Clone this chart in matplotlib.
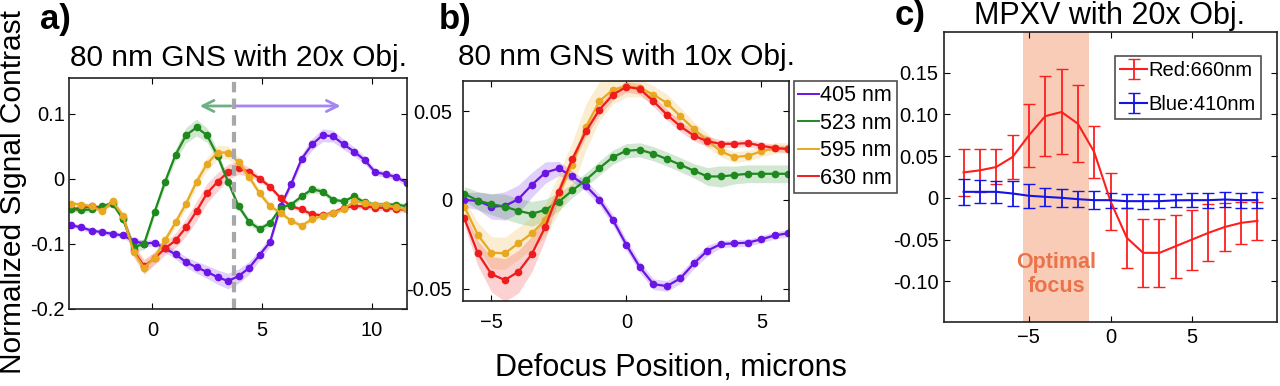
import numpy as np
import matplotlib
matplotlib.use("Agg")
import matplotlib.pyplot as plt

plt.rcParams['font.family'] = ['Liberation Sans', 'DejaVu Sans']

# ---- panel a: 80 nm GNS, 20x objective ----
xa = np.linspace(-3.73, 11.58, 33)
a_405 = [-0.071, -0.0745, -0.0795, -0.082, -0.0845, -0.087, -0.0955, -0.0995, -0.098, -0.107, -0.116,
         -0.128, -0.136, -0.143, -0.151, -0.157, -0.1495, -0.137, -0.117, -0.097, -0.042, -0.008,
         0.0305, 0.053, 0.067, 0.0655, 0.053, 0.042, 0.029, 0.0105, 0.007, 0.003, -0.006]
a_523 = [-0.046, -0.048, -0.047, -0.042, -0.038, -0.062, -0.105, -0.100, -0.051, -0.0045, 0.037,
         0.067, 0.079, 0.067, 0.0355, -0.0045, -0.042, -0.066, -0.077, -0.068, -0.0445, -0.0395,
         -0.027, -0.016, -0.0195, -0.032, -0.0345, -0.027, -0.036, -0.0395, -0.0395, -0.0395, -0.042]
a_595 = [-0.038, -0.0395, -0.042, -0.0495, -0.0345, -0.057, -0.112, -0.137, -0.121, -0.0945, -0.067,
         -0.038, -0.0045, 0.023, 0.0405, 0.0405, 0.0255, 0.003, -0.022, -0.042, -0.052, -0.0645,
         -0.072, -0.062, -0.057, -0.052, -0.047, -0.0345, -0.037, -0.0395, -0.0395, -0.044, -0.047]
a_630 = [-0.047, -0.0445, -0.042, -0.0445, -0.036, -0.0595, -0.1095, -0.1345, -0.122, -0.107, -0.0945,
         -0.0745, -0.0495, -0.022, -0.0045, 0.0105, 0.017, 0.0105, 0.0005, -0.012, -0.0295, -0.042,
         -0.047, -0.0545, -0.056, -0.052, -0.0445, -0.042, -0.042, -0.0445, -0.0445, -0.047, -0.047]
a_405_sd = [0.004, 0.004, 0.004, 0.004, 0.004, 0.004, 0.005, 0.005, 0.005, 0.006, 0.007,
            0.008, 0.009, 0.010, 0.011, 0.012, 0.011, 0.010, 0.008, 0.007, 0.006, 0.006,
            0.007, 0.009, 0.010, 0.009, 0.008, 0.007, 0.006, 0.005, 0.005, 0.005, 0.005]
a_523_sd = [0.004, 0.004, 0.004, 0.004, 0.004, 0.006, 0.009, 0.008, 0.006, 0.007, 0.009,
            0.012, 0.013, 0.011, 0.008, 0.006, 0.005, 0.005, 0.005, 0.005, 0.004, 0.004,
            0.004, 0.005, 0.005, 0.004, 0.004, 0.004, 0.004, 0.004, 0.004, 0.004, 0.004]
a_595_sd = [0.004, 0.004, 0.004, 0.004, 0.004, 0.006, 0.009, 0.010, 0.009, 0.008, 0.008,
            0.008, 0.009, 0.010, 0.011, 0.010, 0.008, 0.006, 0.005, 0.005, 0.004, 0.004,
            0.004, 0.004, 0.004, 0.004, 0.004, 0.004, 0.004, 0.004, 0.004, 0.004, 0.004]
a_630_sd = [0.004, 0.004, 0.004, 0.004, 0.004, 0.006, 0.009, 0.011, 0.010, 0.010, 0.011,
            0.013, 0.015, 0.015, 0.014, 0.012, 0.010, 0.007, 0.005, 0.004, 0.004, 0.004,
            0.004, 0.004, 0.004, 0.004, 0.004, 0.004, 0.004, 0.004, 0.004, 0.004, 0.004]
focus_a = 3.7
arrow_y = 0.112
arrow_left, arrow_right = 2.03, 8.7

# ---- panel b: 80 nm GNS, 10x objective ----
xb = np.arange(-6, 6.01, 0.5)
b_405 = [0.0, -0.0006, -0.0038, -0.0034, 0.0004, 0.0085, 0.0154, 0.0177, 0.0132, 0.0079, 0.0,
         -0.0113, -0.0254, -0.038, -0.0475, -0.0486, -0.0442, -0.0358, -0.0286, -0.0249, -0.0245,
         -0.0241, -0.0222, -0.020, -0.0188]
b_523 = [0.0034, -0.0004, -0.0024, -0.0038, -0.0062, -0.0079, -0.0056, -0.001, 0.0053, 0.0113,
         0.0179, 0.0241, 0.0277, 0.0282, 0.026, 0.023, 0.0198, 0.0164, 0.0132, 0.0132, 0.014,
         0.0147, 0.0147, 0.0147, 0.0147]
b_595 = [-0.0038, -0.0198, -0.0298, -0.0301, -0.0245, -0.0188, -0.0113, 0.0038, 0.0198, 0.0411,
         0.0556, 0.0621, 0.064, 0.0631, 0.0593, 0.0546, 0.0471, 0.0399, 0.0335, 0.0273, 0.0241,
         0.0249, 0.0273, 0.0292, 0.0292]
b_630 = [-0.0104, -0.0301, -0.0418, -0.0452, -0.0405, -0.0305, -0.0151, 0.0047, 0.023, 0.0386,
         0.0508, 0.0593, 0.0637, 0.0625, 0.0556, 0.048, 0.0414, 0.0362, 0.033, 0.0316, 0.0316,
         0.032, 0.0305, 0.0292, 0.0286]
b_405_sd = [0.004, 0.005, 0.007, 0.008, 0.008, 0.007, 0.006, 0.004, 0.003, 0.003, 0.003,
            0.003, 0.003, 0.003, 0.003, 0.003, 0.003, 0.003, 0.003, 0.002, 0.002,
            0.002, 0.002, 0.002, 0.002]
b_523_sd = [0.004, 0.005, 0.006, 0.007, 0.007, 0.007, 0.006, 0.005, 0.004, 0.004,
            0.004, 0.004, 0.004, 0.004, 0.004, 0.004, 0.004, 0.004, 0.005, 0.006, 0.005,
            0.005, 0.005, 0.005, 0.005]
b_595_sd = [0.004, 0.007, 0.009, 0.009, 0.009, 0.009, 0.009, 0.011, 0.013, 0.013,
            0.011, 0.008, 0.006, 0.005, 0.005, 0.005, 0.005, 0.004, 0.004, 0.003, 0.003,
            0.003, 0.003, 0.003, 0.003]
b_630_sd = [0.004, 0.007, 0.010, 0.012, 0.012, 0.010, 0.007, 0.004, 0.003, 0.003,
            0.003, 0.003, 0.003, 0.003, 0.003, 0.003, 0.003, 0.003, 0.003, 0.002, 0.002,
            0.002, 0.002, 0.002, 0.002]
wavelengths = ['405 nm', '523 nm', '595 nm', '630 nm']

# ---- panel c: MPXV, 20x objective ----
xc = np.arange(-9, 10)
c_red = [0.0305, 0.033, 0.037, 0.049, 0.075, 0.098, 0.103, 0.089, 0.055, -0.004, -0.048,
         -0.066, -0.066, -0.058, -0.050, -0.042, -0.035, -0.030, -0.0277]
c_red_err = [0.028, 0.026, 0.021, 0.026, 0.038, 0.048, 0.051, 0.046, 0.031, 0.034, 0.036,
             0.041, 0.041, 0.038, 0.036, 0.034, 0.029, 0.025, 0.0225]
c_blue = [0.0072, 0.0072, 0.0072, 0.0052, 0.0025, 0.0012, 0.0, -0.0016, -0.0028, -0.0028, -0.004,
          -0.004, -0.004, -0.003, -0.0028, -0.0028, -0.002, -0.0028, -0.0028]
c_blue_err = [0.0155, 0.014, 0.013, 0.015, 0.0145, 0.011, 0.011, 0.010, 0.011, 0.009, 0.008,
              0.009, 0.008, 0.0075, 0.008, 0.009, 0.009, 0.009, 0.010]
optimal_range = (-5.35, -1.31)

colors = ['#6A14E6', '#1E8A1E', '#E8A820', '#EE1C1C']

W, H = 1280, 386
fig = plt.figure(figsize=(W / 100, H / 100), dpi=100)


def box(x0, y0, x1, y1):
    # pixel box (top-left origin) -> figure fraction rect
    return [x0 / W, 1 - y1 / H, (x1 - x0) / W, (y1 - y0) / H]


def style(ax, fs):
    ax.tick_params(direction='in', top=True, right=True, labelsize=fs, length=4, width=0.8)
    for s in ax.spines.values():
        s.set_linewidth(1.2)
        s.set_color('#222222')


# panel a
ax1 = fig.add_axes(box(69, 78, 407, 309))
for y, sd, c in zip([a_405, a_523, a_595, a_630], [a_405_sd, a_523_sd, a_595_sd, a_630_sd], colors):
    y = np.array(y); sd = np.array(sd)
    ax1.fill_between(xa, y - sd, y + sd, color=c, alpha=0.2, lw=0)
for y, c in zip([a_405, a_630, a_523, a_595], [colors[0], colors[3], colors[1], colors[2]]):
    ax1.plot(xa, y, '-o', color=c, lw=1.6, ms=4.5)
ax1.axvline(focus_a, color='#A8A8A8', lw=3, ls=(0, (2.5, 1.5)))
ax1.annotate('', xy=(arrow_left, arrow_y), xytext=(focus_a, arrow_y),
             arrowprops=dict(arrowstyle='->', color='#6FAF85', lw=2, mutation_scale=20))
ax1.annotate('', xy=(arrow_right, arrow_y), xytext=(focus_a, arrow_y),
             arrowprops=dict(arrowstyle='->', color='#A585F2', lw=2, mutation_scale=20))
ax1.set_xlim(-3.8, 11.6)
ax1.set_ylim(-0.192, 0.155)
ax1.set_xticks([0, 5, 10])
ax1.set_yticks([-0.2, -0.1, 0, 0.1])
ax1.set_yticklabels(['-0.2', '-0.1', '0', '0.1'])
style(ax1, 14.5)
ax1.tick_params(axis='x', pad=9)
ax1.tick_params(axis='y', pad=3)

# panel b
ax2 = fig.add_axes(box(463, 81, 789, 301))
for y, sd, c in zip([b_405, b_523, b_595, b_630], [b_405_sd, b_523_sd, b_595_sd, b_630_sd], colors):
    y = np.array(y); sd = np.array(sd)
    ax2.fill_between(xb, y - sd, y + sd, color=c, alpha=0.2, lw=0)
handles = []
for y, c, lab in zip([b_405, b_523, b_595, b_630], colors, wavelengths):
    ax2.plot(xb, y, '-o', color=c, lw=1.6, ms=4.5)
    h, = ax2.plot([], [], '-', color=c, lw=1.4, label=lab)
    handles.append(h)
ax2.set_xlim(-6.05, 6.02)
ax2.set_ylim(-0.057, 0.067)
ax2.set_xticks([-5, 0, 5])
ax2.set_yticks([-0.05, 0, 0.05])
ax2.set_yticklabels(['-0.05', '0', '0.05'])
style(ax2, 14.5)
ax2.tick_params(axis='x', pad=9)
ax2.tick_params(axis='y', pad=8)
leg = fig.legend(handles=handles, loc='upper left', bbox_to_anchor=(794 / W, 1 - 81 / H),
                 fontsize=15.5, frameon=True, fancybox=False, edgecolor='#222222',
                 handlelength=0.95, handletextpad=0.08, borderpad=0.2, borderaxespad=0,
                 labelspacing=0.3)
leg.get_frame().set_linewidth(1.2)

# panel c
ax3 = fig.add_axes(box(944, 32, 1277, 322))
ax3.axvspan(*optimal_range, color='#F9CCB8', lw=0)
ax3.errorbar(xc, c_red, yerr=c_red_err, color='#FF1E1E', lw=1.5, capsize=4, elinewidth=1.3,
             label='Red:660nm')
ax3.errorbar(xc, c_blue, yerr=c_blue_err, color='#1414E6', lw=1.5, capsize=4, elinewidth=1.3,
             label='Blue:410nm')
ax3.text(np.mean(optimal_range), -0.092, 'Optimal\nfocus', ha='center', va='center',
         color='#EC7349', fontsize=15.5, fontweight='bold', linespacing=1.2)
ax3.set_xlim(-10.2, 10.2)
ax3.set_ylim(-0.149, 0.199)
ax3.set_xticks([-5, 0, 5])
ax3.set_yticks([-0.10, -0.05, 0, 0.05, 0.10, 0.15])
ax3.set_yticklabels(['-0.10', '-0.05', '0', '0.05', '0.10', '0.15'])
style(ax3, 14.5)
ax3.tick_params(axis='x', pad=4)
ax3.tick_params(axis='y', pad=4)
leg3 = ax3.legend(loc='upper right', bbox_to_anchor=(1261 / W, 1 - 56 / H),
                  bbox_transform=fig.transFigure, fontsize=14.5, frameon=True, fancybox=False,
                  edgecolor='#222222', handlelength=1.35, handletextpad=0.08, borderpad=0.25,
                  labelspacing=0.75, borderaxespad=0)
leg3.get_frame().set_linewidth(1.2)

# titles and labels
fig.text(238 / W, 1 - 58 / H, '80 nm GNS with 20x Obj.', ha='center', va='center', fontsize=21.5)
fig.text(626 / W, 1 - 57 / H, '80 nm GNS with 10x Obj.', ha='center', va='center', fontsize=21.5)
fig.text(1110 / W, 1 - 16 / H, 'MPXV with 20x Obj.', ha='center', va='center', fontsize=22)
fig.text(55 / W, 1 - 20 / H, 'a)', ha='center', va='center', fontsize=25, fontweight='bold')
fig.text(455 / W, 1 - 20 / H, 'b)', ha='center', va='center', fontsize=25, fontweight='bold')
fig.text(910 / W, 1 - 16 / H, 'c)', ha='center', va='center', fontsize=25, fontweight='bold')
fig.text(13 / W, 1 - 192 / H, 'Normalized Signal Contrast', rotation=90, ha='center', va='center',
         fontsize=21.5)
fig.text(671 / W, 1 - 368 / H, 'Defocus Position, microns', ha='center', va='center', fontsize=22)

fig.savefig('out.png', dpi=100)
